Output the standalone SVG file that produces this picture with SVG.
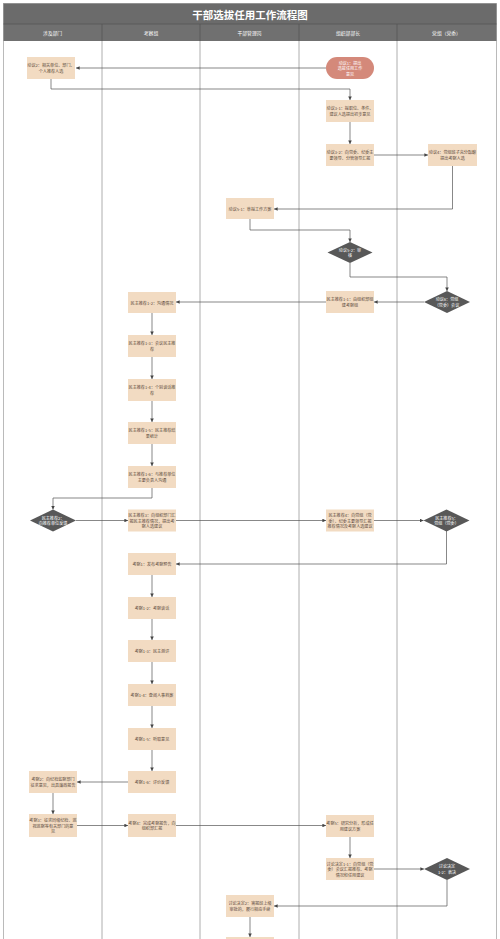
<svg xmlns="http://www.w3.org/2000/svg" width="500" height="939" viewBox="0 0 500 939">
<style>
text{font-family:"Noto Sans CJK SC","Liberation Sans",sans-serif;}
.box{fill:#f2dbc2;}
.pill{fill:#d4897a;}
.dia{fill:#585858;}
.t{font-size:4.1px;fill:#5b4a3c;text-anchor:middle;dominant-baseline:central;}
.tw{font-size:4.1px;fill:#ffffff;text-anchor:middle;dominant-baseline:central;}
.hd{font-size:4.8px;fill:#ffffff;text-anchor:middle;dominant-baseline:central;}
.lane{stroke:#9a9a9a;stroke-width:0.8;fill:none;}
.c path{fill:none;stroke:#555555;stroke-width:0.7;}
.c path.a{marker-end:url(#ah);}
</style>
<defs>
<marker id="ah" markerUnits="userSpaceOnUse" markerWidth="3.6" markerHeight="3.6" viewBox="0 0 6 6" refX="6" refY="3" orient="auto">
<path d="M0,0 L6,3 L0,6 z" fill="#444444"/>
</marker>
</defs>
<rect x="0" y="0" width="500" height="939" fill="#ffffff"/>
<g id="frame">
<rect x="3.5" y="3.5" width="493" height="940" fill="#ffffff" stroke="#aaaaaa" stroke-width="0.8"/>
<rect x="3.5" y="3.5" width="493" height="20.5" fill="#6b6b6b"/>
<text x="250" y="14" style="font-size:10.5px;fill:#ffffff;text-anchor:middle;dominant-baseline:central;font-weight:bold">干部选拔任用工作流程图</text>
<rect x="3.5" y="24" width="493" height="17" fill="#707070"/>
<path d="M102,24V41M200,24V41M299,24V41M397,24V41M3.5,24H496.5" stroke="#555555" stroke-width="0.8"/>
<text class="hd" x="52.5" y="32.5">涉及部门</text>
<text class="hd" x="151" y="32.5">考察组</text>
<text class="hd" x="249.5" y="32.5">干部管理岗</text>
<text class="hd" x="348" y="32.5">组织部部长</text>
<text class="hd" x="446.5" y="32.5">党组（党委）</text>
<path class="lane" d="M102,41V939M200,41V939M299,41V939M397,41V939"/>
</g>
<g class="c" id="connectors">
<path class="a" d="M326,68H76"/>
<path class="a" d="M51,79V89H350V100"/>
<path class="a" d="M350,122V144"/>
<path class="a" d="M374,155H428"/>
<path class="a" d="M452.5,166V209H274"/>
<path class="a" d="M250,219V230H350V242"/>
<path class="a" d="M350,263V277H447V291"/>
<path class="a" d="M424,302H374"/>
<path class="a" d="M326,302H176"/>
<path class="a" d="M152,313V335"/>
<path class="a" d="M152,357V379"/>
<path class="a" d="M152,401V422"/>
<path class="a" d="M152,444V466"/>
<path class="a" d="M152,488V498H53V509.5"/>
<path class="a" d="M76,520.5H128"/>
<path class="a" d="M176,520.5H326"/>
<path class="a" d="M374,520.5H423.5"/>
<path class="a" d="M446.5,531V564H176"/>
<path class="a" d="M152,575V597"/>
<path class="a" d="M152,619V640"/>
<path class="a" d="M152,662V684"/>
<path class="a" d="M152,706V728"/>
<path class="a" d="M152,750V771"/>
<path class="a" d="M128,782H77"/>
<path class="a" d="M53,793V814"/>
<path class="a" d="M77,825.5H128"/>
<path class="a" d="M176,825.5H326"/>
<path class="a" d="M350,837V858"/>
<path class="a" d="M374,869H424"/>
<path class="a" d="M447,880V906H274"/>
<path class="a" d="M250,917V937"/>
</g>
<g id="n1"><rect class="pill" x="326" y="57" width="48" height="22" rx="11"/><text class="tw" x="350"><tspan x="350" y="62.5">动议1：提出</tspan><tspan x="350" y="68">选拔任用工作</tspan><tspan x="350" y="73.5">意见</tspan></text></g>
<g id="n2"><rect class="box" x="27" y="57" width="48" height="22"/><text class="t"><tspan x="51" y="65.2">动议2：相关单位、部门、</tspan><tspan x="51" y="70.8">个人推荐人选</tspan></text></g>
<g id="n3"><rect class="box" x="326" y="100" width="48" height="22"/><text class="t"><tspan x="350" y="108.2">动议3-1：拟职位、条件、</tspan><tspan x="350" y="113.8">建议人选提出初步意见</tspan></text></g>
<g id="n4"><rect class="box" x="326" y="144" width="48" height="22"/><text class="t"><tspan x="350" y="152.2">动议3-2：向党委、纪委主</tspan><tspan x="350" y="157.8">要领导、分管领导汇报</tspan></text></g>
<g id="n5"><rect class="box" x="428" y="144" width="49" height="22"/><text class="t"><tspan x="452.5" y="152.2">动议4：党组班子充分酝酿</tspan><tspan x="452.5" y="157.8">提出考察人选</tspan></text></g>
<g id="n6"><rect class="box" x="226" y="198" width="48" height="21"/><text class="t" x="250" y="208.5">动议5-1：草拟工作方案</text></g>
<g id="n7"><path class="dia" d="M327.5,252.5L350,242L372.5,252.5L350,263z"/><text class="tw"><tspan x="350" y="249.7">动议5-2：审</tspan><tspan x="350" y="255.3">核</tspan></text></g>
<g id="n8"><path class="dia" d="M424,302L447,291L470,302L447,313z"/><text class="tw"><tspan x="447" y="299.2">动议6：党组</tspan><tspan x="447" y="304.8">（党委）会议</tspan></text></g>
<g id="n9"><rect class="box" x="326" y="291" width="48" height="22"/><text class="t"><tspan x="350" y="299.2">民主推荐1-1：由组织部组</tspan><tspan x="350" y="304.8">建考察组</tspan></text></g>
<g id="n10"><rect class="box" x="128" y="292" width="48" height="21"/><text class="t" x="152" y="302.5">民主推荐1-2：沟通情况</text></g>
<g id="n11"><rect class="box" x="128" y="335" width="48" height="22"/><text class="t"><tspan x="152" y="343.2">民主推荐1-3：会议民主推</tspan><tspan x="152" y="348.8">荐</tspan></text></g>
<g id="n12"><rect class="box" x="128" y="379" width="48" height="22"/><text class="t"><tspan x="152" y="387.2">民主推荐1-4：个别谈话推</tspan><tspan x="152" y="392.8">荐</tspan></text></g>
<g id="n13"><rect class="box" x="128" y="422" width="48" height="22"/><text class="t"><tspan x="152" y="430.2">民主推荐1-5：民主推荐结</tspan><tspan x="152" y="435.8">果统计</tspan></text></g>
<g id="n14"><rect class="box" x="128" y="466" width="48" height="22"/><text class="t"><tspan x="152" y="474.2">民主推荐1-6：与推荐单位</tspan><tspan x="152" y="479.8">主要负责人沟通</tspan></text></g>
<g id="n15"><path class="dia" d="M30,520.5L53,509.5L76,520.5L53,531.5z"/><text class="tw"><tspan x="53" y="517.7">民主推荐2：</tspan><tspan x="53" y="523.3">向推荐单位反馈</tspan></text></g>
<g id="n16"><rect class="box" x="128" y="509.5" width="48" height="22"/><text class="t"><tspan x="152" y="515">民主推荐3：向组织部门汇</tspan><tspan x="152" y="520.5">报民主推荐情况，提出考</tspan><tspan x="152" y="526">察人选建议</tspan></text></g>
<g id="n17"><rect class="box" x="326" y="509.5" width="48" height="22"/><text class="t"><tspan x="350" y="515">民主推荐4：向党组（党</tspan><tspan x="350" y="520.5">委）、纪委主要领导汇报</tspan><tspan x="350" y="526">推荐情况及考察人选建议</tspan></text></g>
<g id="n18"><path class="dia" d="M423.5,520.5L446.5,509.5L469.5,520.5L446.5,531.5z"/><text class="tw"><tspan x="446.5" y="517.7">民主推荐5：</tspan><tspan x="446.5" y="523.3">党组（党委）</tspan></text></g>
<g id="n19"><rect class="box" x="128" y="553" width="48" height="22"/><text class="t" x="152" y="564">考察1：发布考察预告</text></g>
<g id="n20"><rect class="box" x="128" y="597" width="48" height="22"/><text class="t" x="152" y="608">考察1-2：考察谈话</text></g>
<g id="n21"><rect class="box" x="128" y="640" width="48" height="22"/><text class="t" x="152" y="651">考察1-3：民主测评</text></g>
<g id="n22"><rect class="box" x="128" y="684" width="48" height="22"/><text class="t" x="152" y="695">考察1-4：查阅人事档案</text></g>
<g id="n23"><rect class="box" x="128" y="728" width="48" height="22"/><text class="t" x="152" y="739">考察1-5：听取意见</text></g>
<g id="n24"><rect class="box" x="128" y="771" width="48" height="22"/><text class="t" x="152" y="782">考察1-6：评价反馈</text></g>
<g id="n25"><rect class="box" x="29" y="771" width="48" height="22"/><text class="t"><tspan x="53" y="779.2">考察2：向纪检监察部门</tspan><tspan x="53" y="784.8">征求意见，出具廉政报告</tspan></text></g>
<g id="n26"><rect class="box" x="29" y="814" width="48" height="23"/><text class="t"><tspan x="53" y="820">考察3：征求同级纪检、巡</tspan><tspan x="53" y="825.5">视巡察等有关部门的意</tspan><tspan x="53" y="831">见</tspan></text></g>
<g id="n27"><rect class="box" x="128" y="814" width="48" height="23"/><text class="t"><tspan x="152" y="822.7">考察4：完成考察报告，向</tspan><tspan x="152" y="828.3">组织部汇报</tspan></text></g>
<g id="n28"><rect class="box" x="326" y="815" width="48" height="22"/><text class="t"><tspan x="350" y="823.2">考察5：研究分析，形成任</tspan><tspan x="350" y="828.8">用建议方案</tspan></text></g>
<g id="n29"><rect class="box" x="326" y="858" width="48" height="22"/><text class="t"><tspan x="350" y="863.5">讨论决定1-1：向党组（党</tspan><tspan x="350" y="869">委）会议汇报推荐、考察</tspan><tspan x="350" y="874.5">情况和任用建议</tspan></text></g>
<g id="n30"><path class="dia" d="M424,869L447,858L470,869L447,880z"/><text class="tw"><tspan x="447" y="866.2">讨论决定</tspan><tspan x="447" y="871.8">1-2：表决</tspan></text></g>
<g id="n31"><rect class="box" x="226" y="895" width="48" height="22"/><text class="t"><tspan x="250" y="903.2">讨论决定2：需报经上级</tspan><tspan x="250" y="908.8">审批的，履行相应手续</tspan></text></g>
<g id="n32"><rect class="box" x="226" y="937" width="48" height="22"/></g>
</svg>
